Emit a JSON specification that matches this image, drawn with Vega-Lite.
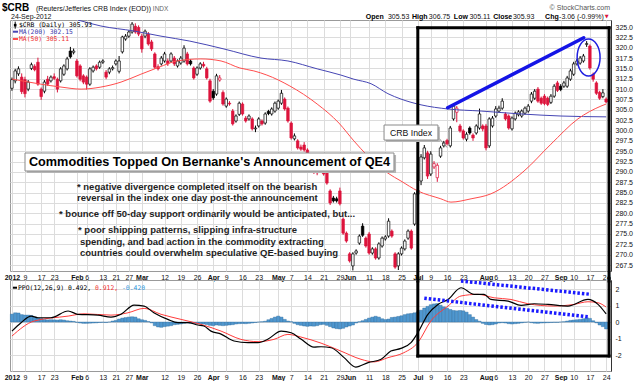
{
"$schema":"https://vega.github.io/schema/vega-lite/v6.json",
"background":"white",
"padding":{"left":1,"top":2,"right":0,"bottom":0},
"spacing":9,
"bounds":"flush",
"config":{"font":"Liberation Sans","view":{"stroke":"#9a9a9a","strokeWidth":1},"axis":{"labelFont":"Liberation Sans","labelFontSize":7,"labelColor":"#111","ticks":false,"domain":false,"grid":true,"gridColor":"#dcdcdc","labelOverlap":false,"title":null}},
"datasets":{
"ohlc":[
{"i":0,"o":310.2,"h":312.8,"l":309.6,"c":312.3},{"i":1,"o":312.0,"h":314.9,"l":311.4,"c":314.4},{"i":2,"o":313.7,"h":315.5,"l":313.2,"c":314.9},{"i":3,"o":312.9,"h":313.8,"l":308.8,"c":309.4},{"i":4,"o":312.3,"h":313.0,"l":308.0,"c":308.9},{"i":5,"o":310.0,"h":312.2,"l":309.5,"c":311.7},{"i":6,"o":315.0,"h":316.4,"l":314.6,"c":315.9},{"i":7,"o":315.5,"h":316.0,"l":314.3,"c":314.7},{"i":8,"o":316.5,"h":317.6,"l":310.8,"c":311.2},{"i":9,"o":310.0,"h":310.4,"l":307.4,"c":308.2},
{"i":10,"o":309.5,"h":312.2,"l":309.0,"c":311.7},{"i":11,"o":312.4,"h":313.2,"l":310.8,"c":311.2},{"i":12,"o":312.0,"h":313.3,"l":311.6,"c":312.9},{"i":13,"o":313.0,"h":313.8,"l":312.2,"c":312.6},{"i":14,"o":312.4,"h":312.8,"l":309.2,"c":310.0},{"i":15,"o":312.0,"h":315.3,"l":311.6,"c":314.9},{"i":16,"o":313.6,"h":316.0,"l":313.2,"c":315.6},{"i":17,"o":314.9,"h":317.8,"l":314.5,"c":317.3},{"i":18,"o":319.2,"h":320.2,"l":317.4,"c":317.8},{"i":19,"o":318.9,"h":319.8,"l":318.4,"c":319.2},
{"i":20,"o":316.8,"h":317.3,"l":312.8,"c":313.2},{"i":21,"o":315.6,"h":316.0,"l":311.9,"c":312.4},{"i":22,"o":313.2,"h":313.6,"l":311.2,"c":311.7},{"i":23,"o":312.9,"h":313.3,"l":309.9,"c":311.2},{"i":24,"o":311.2,"h":315.3,"l":310.8,"c":314.9},{"i":25,"o":314.4,"h":315.7,"l":314.0,"c":315.3},{"i":26,"o":315.6,"h":316.0,"l":314.5,"c":314.9},{"i":27,"o":315.3,"h":316.9,"l":314.9,"c":316.5},{"i":28,"o":316.5,"h":317.2,"l":316.1,"c":316.8},{"i":29,"o":314.1,"h":314.6,"l":312.4,"c":312.9},
{"i":30,"o":314.1,"h":315.3,"l":313.6,"c":314.9},{"i":31,"o":314.9,"h":315.7,"l":314.5,"c":315.2},{"i":32,"o":316.1,"h":317.2,"l":315.7,"c":316.8},{"i":33,"o":314.3,"h":318.0,"l":313.8,"c":316.8},{"i":34,"o":319.0,"h":322.9,"l":318.6,"c":322.6},{"i":35,"o":322.1,"h":323.3,"l":321.7,"c":322.8},{"i":36,"o":322.8,"h":324.2,"l":322.4,"c":323.8},{"i":37,"o":323.8,"h":326.2,"l":323.4,"c":325.7},{"i":38,"o":325.2,"h":325.9,"l":323.4,"c":323.8},{"i":39,"o":324.9,"h":325.4,"l":322.8,"c":323.3},
{"i":40,"o":322.8,"h":323.4,"l":318.8,"c":319.7},{"i":41,"o":322.8,"h":324.4,"l":322.3,"c":324.0},{"i":42,"o":323.3,"h":323.8,"l":320.5,"c":320.9},{"i":43,"o":321.4,"h":321.9,"l":319.2,"c":319.7},{"i":44,"o":318.5,"h":318.9,"l":314.9,"c":315.3},{"i":45,"o":315.4,"h":316.0,"l":314.5,"c":314.9},{"i":46,"o":316.1,"h":318.0,"l":315.7,"c":317.5},{"i":47,"o":316.8,"h":319.0,"l":316.4,"c":318.5},{"i":48,"o":316.8,"h":317.4,"l":315.6,"c":316.1},{"i":49,"o":316.8,"h":318.9,"l":316.4,"c":318.5},
{"i":50,"o":317.5,"h":318.0,"l":315.6,"c":316.1},{"i":51,"o":315.6,"h":317.2,"l":315.2,"c":316.8},{"i":52,"o":316.3,"h":318.0,"l":315.9,"c":317.5},{"i":53,"o":316.8,"h":320.6,"l":316.4,"c":319.9},{"i":54,"o":318.5,"h":319.0,"l":315.7,"c":316.1},{"i":55,"o":316.8,"h":317.2,"l":315.7,"c":316.1},{"i":56,"o":315.1,"h":315.5,"l":312.3,"c":312.7},{"i":57,"o":313.6,"h":315.5,"l":313.2,"c":315.1},{"i":58,"o":315.1,"h":316.5,"l":314.7,"c":316.1},{"i":59,"o":316.0,"h":316.6,"l":315.2,"c":315.6},
{"i":60,"o":314.9,"h":315.4,"l":312.3,"c":312.7},{"i":61,"o":312.0,"h":312.5,"l":306.7,"c":307.1},{"i":62,"o":309.5,"h":310.0,"l":307.4,"c":307.9},{"i":63,"o":308.8,"h":313.7,"l":308.4,"c":313.2},{"i":64,"o":312.2,"h":313.4,"l":311.8,"c":312.7},{"i":65,"o":309.2,"h":309.7,"l":306.0,"c":306.4},{"i":66,"o":305.9,"h":308.0,"l":305.5,"c":307.6},{"i":67,"o":306.6,"h":307.1,"l":306.0,"c":306.4},{"i":68,"o":304.7,"h":305.2,"l":301.2,"c":301.6},{"i":69,"o":302.3,"h":303.9,"l":301.9,"c":303.5},
{"i":70,"o":303.9,"h":307.0,"l":303.5,"c":306.6},{"i":71,"o":306.4,"h":306.8,"l":303.6,"c":304.0},{"i":72,"o":303.0,"h":303.5,"l":301.9,"c":302.3},{"i":73,"o":302.8,"h":303.9,"l":302.4,"c":303.5},{"i":74,"o":302.8,"h":303.2,"l":300.0,"c":300.4},{"i":75,"o":300.4,"h":301.2,"l":299.6,"c":300.6},{"i":76,"o":301.1,"h":303.2,"l":300.7,"c":302.8},{"i":77,"o":302.3,"h":302.7,"l":301.2,"c":301.6},{"i":78,"o":301.8,"h":304.4,"l":301.4,"c":304.0},{"i":79,"o":304.6,"h":305.0,"l":303.7,"c":304.1},
{"i":80,"o":304.0,"h":305.6,"l":303.6,"c":305.2},{"i":81,"o":304.7,"h":307.0,"l":304.3,"c":306.6},{"i":82,"o":305.4,"h":307.5,"l":305.0,"c":307.1},{"i":83,"o":306.6,"h":309.8,"l":306.2,"c":309.0},{"i":84,"o":307.6,"h":308.0,"l":304.8,"c":305.2},{"i":85,"o":305.4,"h":305.8,"l":301.9,"c":302.3},{"i":86,"o":301.8,"h":302.2,"l":297.8,"c":298.2},{"i":87,"o":298.0,"h":299.3,"l":297.6,"c":298.7},{"i":88,"o":297.5,"h":297.9,"l":295.4,"c":295.8},{"i":89,"o":296.0,"h":296.6,"l":295.1,"c":295.5},
{"i":90,"o":296.5,"h":297.2,"l":294.9,"c":295.3},{"i":91,"o":295.3,"h":295.7,"l":292.6,"c":293.0},{"i":92,"o":293.0,"h":293.4,"l":290.6,"c":291.0},{"i":93,"o":290.0,"h":291.3,"l":289.5,"c":290.8},{"i":94,"o":289.8,"h":291.0,"l":289.2,"c":290.6},{"i":95,"o":291.0,"h":291.6,"l":290.0,"c":290.4},{"i":96,"o":290.9,"h":291.8,"l":289.1,"c":289.5},{"i":97,"o":290.9,"h":291.3,"l":286.9,"c":287.3},{"i":98,"o":285.4,"h":285.8,"l":282.0,"c":282.5},{"i":99,"o":283.7,"h":284.2,"l":282.6,"c":283.0},
{"i":100,"o":283.5,"h":284.0,"l":282.6,"c":283.0},{"i":101,"o":285.4,"h":286.2,"l":281.9,"c":282.3},{"i":102,"o":278.6,"h":279.0,"l":274.8,"c":275.2},{"i":103,"o":275.2,"h":275.6,"l":272.9,"c":273.3},{"i":104,"o":270.2,"h":270.6,"l":268.1,"c":268.5},{"i":105,"o":267.3,"h":270.6,"l":266.2,"c":270.2},{"i":106,"o":270.4,"h":271.3,"l":270.0,"c":270.9},{"i":107,"o":272.8,"h":274.9,"l":272.4,"c":274.5},{"i":108,"o":276.9,"h":277.6,"l":274.3,"c":274.7},{"i":109,"o":274.0,"h":274.4,"l":271.7,"c":272.1},
{"i":110,"o":275.0,"h":275.5,"l":270.0,"c":270.4},{"i":111,"o":270.4,"h":271.8,"l":270.0,"c":271.4},{"i":112,"o":271.4,"h":271.8,"l":268.8,"c":269.2},{"i":113,"o":269.2,"h":273.0,"l":268.8,"c":272.6},{"i":114,"o":272.1,"h":274.4,"l":271.7,"c":274.0},{"i":115,"o":273.8,"h":274.7,"l":273.4,"c":274.3},{"i":116,"o":274.5,"h":278.8,"l":274.1,"c":278.1},{"i":117,"o":275.7,"h":276.1,"l":274.1,"c":274.5},{"i":118,"o":270.2,"h":270.6,"l":266.6,"c":267.0},{"i":119,"o":267.3,"h":270.6,"l":266.3,"c":270.2},
{"i":120,"o":270.2,"h":272.0,"l":269.8,"c":271.6},{"i":121,"o":271.4,"h":273.7,"l":271.0,"c":273.3},{"i":122,"o":274.0,"h":276.1,"l":273.6,"c":275.7},{"i":123,"o":275.7,"h":276.1,"l":271.2,"c":271.6},{"i":124,"o":277.4,"h":285.1,"l":277.0,"c":284.7},{"i":125,"o":284.6,"h":286.0,"l":284.2,"c":285.6},{"i":126,"o":287.8,"h":294.3,"l":286.8,"c":293.6},{"i":127,"o":293.4,"h":296.5,"l":293.0,"c":295.8},{"i":128,"o":294.6,"h":295.1,"l":288.3,"c":289.0},{"i":129,"o":289.5,"h":295.0,"l":289.0,"c":294.3},
{"i":130,"o":291.2,"h":292.6,"l":290.7,"c":292.0},{"i":131,"o":288.6,"h":292.1,"l":287.6,"c":291.6},{"i":132,"o":293.8,"h":296.3,"l":293.4,"c":295.8},{"i":133,"o":296.3,"h":297.5,"l":295.9,"c":297.0},{"i":134,"o":297.6,"h":298.0,"l":296.4,"c":296.8},{"i":135,"o":296.3,"h":301.1,"l":295.9,"c":300.6},{"i":136,"o":302.8,"h":306.5,"l":302.4,"c":305.9},{"i":137,"o":304.4,"h":305.9,"l":302.0,"c":305.4},{"i":138,"o":301.1,"h":301.6,"l":299.5,"c":299.9},{"i":139,"o":299.9,"h":300.3,"l":297.8,"c":298.2},
{"i":140,"o":297.9,"h":299.6,"l":297.4,"c":299.1},{"i":141,"o":300.6,"h":301.0,"l":299.0,"c":299.4},{"i":142,"o":298.9,"h":299.3,"l":297.5,"c":298.2},{"i":143,"o":299.4,"h":301.5,"l":299.0,"c":301.1},{"i":144,"o":300.6,"h":305.3,"l":300.2,"c":304.0},{"i":145,"o":301.1,"h":301.5,"l":299.8,"c":300.4},{"i":146,"o":301.1,"h":301.6,"l":295.2,"c":295.8},{"i":147,"o":296.3,"h":303.2,"l":295.8,"c":302.8},{"i":148,"o":301.1,"h":303.5,"l":300.7,"c":303.0},{"i":149,"o":303.5,"h":305.9,"l":303.1,"c":305.2},
{"i":150,"o":304.7,"h":306.0,"l":304.3,"c":305.4},{"i":151,"o":305.4,"h":307.8,"l":305.0,"c":307.1},{"i":152,"o":304.0,"h":304.4,"l":302.4,"c":302.8},{"i":153,"o":303.5,"h":303.9,"l":300.2,"c":300.6},{"i":154,"o":300.4,"h":303.4,"l":300.0,"c":303.0},{"i":155,"o":302.8,"h":304.6,"l":302.4,"c":304.2},{"i":156,"o":303.8,"h":304.9,"l":303.4,"c":304.5},{"i":157,"o":303.5,"h":305.1,"l":303.1,"c":304.7},{"i":158,"o":304.2,"h":305.8,"l":303.8,"c":305.4},{"i":159,"o":304.7,"h":306.4,"l":304.3,"c":305.9},
{"i":160,"o":307.1,"h":309.3,"l":306.6,"c":308.8},{"i":161,"o":307.8,"h":310.0,"l":307.4,"c":309.5},{"i":162,"o":310.0,"h":310.5,"l":306.7,"c":307.1},{"i":163,"o":307.8,"h":308.2,"l":306.2,"c":306.6},{"i":164,"o":308.3,"h":308.8,"l":306.1,"c":306.5},{"i":165,"o":307.8,"h":308.2,"l":305.9,"c":306.3},{"i":166,"o":306.8,"h":308.8,"l":306.4,"c":308.3},{"i":167,"o":308.3,"h":311.2,"l":307.9,"c":310.7},{"i":168,"o":311.5,"h":312.0,"l":309.3,"c":309.7},{"i":169,"o":310.7,"h":311.2,"l":309.5,"c":309.9},
{"i":170,"o":310.7,"h":312.0,"l":310.3,"c":311.5},{"i":171,"o":310.7,"h":313.2,"l":310.3,"c":312.7},{"i":172,"o":312.4,"h":314.9,"l":312.0,"c":314.4},{"i":173,"o":313.6,"h":316.6,"l":313.2,"c":316.1},{"i":174,"o":316.1,"h":317.3,"l":315.7,"c":316.8},{"i":175,"o":316.3,"h":318.0,"l":315.9,"c":317.5},{"i":176,"o":316.8,"h":318.5,"l":316.4,"c":318.0},{"i":177,"o":320.8,"h":321.6,"l":320.2,"c":321.0},{"i":178,"o":320.4,"h":320.8,"l":314.7,"c":315.1},{"i":179,"o":313.6,"h":314.0,"l":311.8,"c":312.4},
{"i":180,"o":311.5,"h":311.9,"l":308.6,"c":309.0},{"i":181,"o":309.2,"h":309.6,"l":307.4,"c":307.8},{"i":182,"o":308.2,"h":310.0,"l":307.8,"c":309.1},{"i":183,"o":307.6,"h":308.0,"l":306.6,"c":306.9}
],
"ma200":[{"i":20.3,"p":326.7},{"i":27.4,"p":325.25},{"i":37.6,"p":324.04},{"i":45.9,"p":322.8},{"i":54.8,"p":321.6},{"i":65.3,"p":319.7},{"i":76.7,"p":317.5},{"i":85,"p":316.8},{"i":94,"p":314.9},{"i":101.3,"p":313.4},{"i":105.3,"p":312.4},{"i":110.6,"p":311.3},{"i":115.8,"p":308.9},{"i":119.8,"p":307.6},{"i":126,"p":306.2},{"i":134.3,"p":305.2},{"i":144.5,"p":304.7},{"i":156.8,"p":304.0},{"i":169.1,"p":303.5},{"i":183,"p":303.3}],
"ma50":[{"i":0,"p":312.45},{"i":8.9,"p":311.2},{"i":15.1,"p":310.5},{"i":21.3,"p":310.0},{"i":27.4,"p":310.5},{"i":33.6,"p":311.7},{"i":39.7,"p":313.6},{"i":45.3,"p":315.3},{"i":50.8,"p":316.8},{"i":58.2,"p":317.3},{"i":64.4,"p":316.8},{"i":70.2,"p":315.1},{"i":74.5,"p":314.4},{"i":78.5,"p":313.4},{"i":85.6,"p":310.75},{"i":94,"p":306.4},{"i":100.7,"p":301.8},{"i":105.3,"p":297.5},{"i":109.6,"p":293.85},{"i":115.8,"p":289.7},{"i":119.8,"p":287.8},{"i":125,"p":285.4},{"i":132.1,"p":283.5},{"i":135.2,"p":282.7},{"i":141.4,"p":283.5},{"i":147.5,"p":284.7},{"i":157.7,"p":290.2},{"i":166,"p":296.7},{"i":174.3,"p":302.8},{"i":181.4,"p":305.9},{"i":183,"p":306.4}],
"ppo":[{"i":0,"v":-0.55},{"i":2.8,"v":-0.04},{"i":5.9,"v":0.36},{"i":8,"v":0.26},{"i":12,"v":0.26},{"i":17.3,"v":0.67},{"i":20.3,"v":0.47},{"i":26.5,"v":0.42},{"i":30.5,"v":0.3},{"i":33.6,"v":0.47},{"i":37.6,"v":1.03},{"i":40.7,"v":0.97},{"i":43.7,"v":0.56},{"i":48,"v":0.16},{"i":51.1,"v":-0.04},{"i":54.2,"v":-0.04},{"i":57.3,"v":-0.18},{"i":59.1,"v":-0.24},{"i":61.3,"v":-0.55},{"i":64.4,"v":-0.73},{"i":68.4,"v":-1.15},{"i":72.7,"v":-1.25},{"i":75.8,"v":-1.25},{"i":78.9,"v":-1.03},{"i":82.9,"v":-0.55},{"i":86,"v":-0.65},{"i":89,"v":-1.03},{"i":93,"v":-1.52},{"i":95.2,"v":-1.5},{"i":98.3,"v":-1.56},{"i":102.3,"v":-2.16},{"i":105.9,"v":-2.73},{"i":109.7,"v":-2.46},{"i":113.7,"v":-2.26},{"i":116.7,"v":-1.76},{"i":119.8,"v":-1.6},{"i":122.9,"v":-1.25},{"i":125,"v":-0.65},{"i":128.1,"v":0.47},{"i":131.2,"v":1.07},{"i":134.3,"v":1.37},{"i":138.3,"v":2.08},{"i":142.3,"v":1.68},{"i":145.4,"v":1.68},{"i":147.5,"v":1.37},{"i":152.8,"v":1.27},{"i":156.8,"v":1.01},{"i":160.8,"v":1.11},{"i":165.1,"v":1.07},{"i":171.2,"v":0.97},{"i":177.4,"v":1.37},{"i":180.5,"v":1.07},{"i":183,"v":0.49}],
"sig":[{"i":0,"v":-0.85},{"i":6.8,"v":0.06},{"i":17.3,"v":0.36},{"i":22.2,"v":0.5},{"i":30.5,"v":0.42},{"i":35.7,"v":0.56},{"i":40.7,"v":0.83},{"i":45.9,"v":0.47},{"i":52.1,"v":0.16},{"i":58.2,"v":-0.14},{"i":64.4,"v":-0.55},{"i":70.5,"v":-1.05},{"i":75.8,"v":-1.19},{"i":80.7,"v":-1.05},{"i":85,"v":-0.75},{"i":89,"v":-0.91},{"i":95.2,"v":-1.28},{"i":101.3,"v":-1.76},{"i":107.5,"v":-2.26},{"i":111.5,"v":-2.42},{"i":115.8,"v":-2.16},{"i":120.7,"v":-1.86},{"i":125,"v":-1.25},{"i":129,"v":0.06},{"i":134.3,"v":0.97},{"i":138.3,"v":1.58},{"i":143.5,"v":1.68},{"i":148.5,"v":1.47},{"i":153.7,"v":1.37},{"i":158.9,"v":1.11},{"i":166.9,"v":0.97},{"i":173.1,"v":1.07},{"i":177.4,"v":1.23},{"i":180.5,"v":1.17},{"i":183,"v":0.91}],
"hist":[{"i":0,"v":0.48},{"i":1,"v":0.56},{"i":2,"v":0.55},{"i":3,"v":0.45},{"i":4,"v":0.42},{"i":5,"v":0.42},{"i":6,"v":0.4},{"i":7,"v":0.3},{"i":8,"v":0.25},{"i":9,"v":0.22},{"i":10,"v":0.15},{"i":11,"v":0.13},{"i":12,"v":0.14},{"i":13,"v":0.13},{"i":14,"v":0.12},{"i":15,"v":0.14},{"i":16,"v":0.12},{"i":17,"v":0.08},{"i":18,"v":0.06},{"i":19,"v":0.04},{"i":20,"v":-0.02},{"i":21,"v":-0.06},{"i":22,"v":-0.08},{"i":23,"v":-0.08},{"i":24,"v":-0.07},{"i":25,"v":-0.06},{"i":26,"v":-0.05},{"i":27,"v":-0.03},{"i":28,"v":-0.02},{"i":29,"v":-0.03},{"i":30,"v":0},{"i":31,"v":0.06},{"i":32,"v":0.1},{"i":33,"v":0.18},{"i":34,"v":0.24},{"i":35,"v":0.27},{"i":36,"v":0.3},{"i":37,"v":0.32},{"i":38,"v":0.3},{"i":39,"v":0.2},{"i":40,"v":0.14},{"i":41,"v":0.1},{"i":42,"v":0.03},{"i":43,"v":-0.05},{"i":44,"v":-0.22},{"i":45,"v":-0.3},{"i":46,"v":-0.32},{"i":47,"v":-0.28},{"i":48,"v":-0.25},{"i":49,"v":-0.22},{"i":50,"v":-0.16},{"i":51,"v":-0.14},{"i":52,"v":-0.12},{"i":53,"v":-0.08},{"i":54,"v":-0.06},{"i":55,"v":-0.07},{"i":56,"v":-0.09},{"i":57,"v":-0.1},{"i":58,"v":-0.1},{"i":59,"v":-0.12},{"i":60,"v":-0.15},{"i":61,"v":-0.2},{"i":62,"v":-0.22},{"i":63,"v":-0.18},{"i":64,"v":-0.2},{"i":65,"v":-0.22},{"i":66,"v":-0.2},{"i":67,"v":-0.18},{"i":68,"v":-0.16},{"i":69,"v":-0.12},{"i":70,"v":-0.1},{"i":71,"v":-0.09},{"i":72,"v":-0.1},{"i":73,"v":-0.08},{"i":74,"v":-0.06},{"i":75,"v":-0.03},{"i":76,"v":0},{"i":77,"v":0.02},{"i":78,"v":0.05},{"i":79,"v":0.14},{"i":80,"v":0.22},{"i":81,"v":0.3},{"i":82,"v":0.36},{"i":83,"v":0.3},{"i":84,"v":0.16},{"i":85,"v":0.06},{"i":86,"v":0.02},{"i":87,"v":-0.08},{"i":88,"v":-0.16},{"i":89,"v":-0.2},{"i":90,"v":-0.24},{"i":91,"v":-0.26},{"i":92,"v":-0.24},{"i":93,"v":-0.25},{"i":94,"v":-0.22},{"i":95,"v":-0.16},{"i":96,"v":-0.14},{"i":97,"v":-0.2},{"i":98,"v":-0.28},{"i":99,"v":-0.36},{"i":100,"v":-0.4},{"i":101,"v":-0.42},{"i":102,"v":-0.38},{"i":103,"v":-0.3},{"i":104,"v":-0.24},{"i":105,"v":-0.18},{"i":106,"v":-0.06},{"i":107,"v":0.02},{"i":108,"v":0.08},{"i":109,"v":0.16},{"i":110,"v":0.24},{"i":111,"v":0.3},{"i":112,"v":0.35},{"i":113,"v":0.3},{"i":114,"v":0.2},{"i":115,"v":0.15},{"i":116,"v":0.18},{"i":117,"v":0.28},{"i":118,"v":0.3},{"i":119,"v":0.34},{"i":120,"v":0.38},{"i":121,"v":0.45},{"i":122,"v":0.5},{"i":123,"v":0.52},{"i":124,"v":0.56},{"i":125,"v":0.62},{"i":126,"v":0.72},{"i":127,"v":0.85},{"i":128,"v":0.95},{"i":129,"v":1.05},{"i":130,"v":1.1},{"i":131,"v":1.12},{"i":132,"v":1.02},{"i":133,"v":0.92},{"i":134,"v":0.84},{"i":135,"v":0.76},{"i":136,"v":0.7},{"i":137,"v":0.68},{"i":138,"v":0.7},{"i":139,"v":0.68},{"i":140,"v":0.6},{"i":141,"v":0.45},{"i":142,"v":0.3},{"i":143,"v":0.15},{"i":144,"v":0.05},{"i":145,"v":-0.08},{"i":146,"v":-0.15},{"i":147,"v":-0.18},{"i":148,"v":-0.16},{"i":149,"v":-0.12},{"i":150,"v":-0.06},{"i":151,"v":-0.04},{"i":152,"v":-0.06},{"i":153,"v":-0.1},{"i":154,"v":-0.12},{"i":155,"v":-0.1},{"i":156,"v":-0.08},{"i":157,"v":-0.05},{"i":158,"v":-0.02},{"i":159,"v":0},{"i":160,"v":-0.04},{"i":161,"v":-0.07},{"i":162,"v":-0.08},{"i":163,"v":-0.06},{"i":164,"v":-0.05},{"i":165,"v":-0.04},{"i":166,"v":-0.03},{"i":167,"v":-0.02},{"i":168,"v":-0.02},{"i":169,"v":0},{"i":170,"v":0.02},{"i":171,"v":0.06},{"i":172,"v":0.1},{"i":173,"v":0.12},{"i":174,"v":0.14},{"i":175,"v":0.16},{"i":176,"v":0.2},{"i":177,"v":0.26},{"i":178,"v":0.22},{"i":179,"v":0.08},{"i":180,"v":-0.05},{"i":181,"v":-0.18},{"i":182,"v":-0.28},{"i":183,"v":-0.42}]
},
"vconcat":[
{"width":601,"height":251,"resolve":{"axis":{"x":"independent","y":"independent"}},"layer":[
{"data":{"name":"ohlc"},"transform":[{"window":[{"op":"lag","field":"c","as":"pc"}],"sort":[{"field":"i"}]}],"mark":{"type":"rule","strokeWidth":1},
"encoding":{"x":{"field":"i","type":"quantitative","scale":{"domain":[-0.6,184.5],"nice":false,"zero":false,"padding":0},"axis":{"title":null,"values":[0,4,9,13,20,23,28,32,36,40,47,52,57,62,66,71,76,82,86,91,96,101,104,110,115,120,125,129,134,139,146,149,154,159,164,169,173,178,183],"labelExpr":"['2012','9','17','23','Feb','6','13','21','27','Mar','12','19','26','Apr','9','16','23','May','7','14','21','29','Jun','11','18','25','Jul','9','16','23','Aug','6','13','20','27','Sep','10','17','24'][indexof([0,4,9,13,20,23,28,32,36,40,47,52,57,62,66,71,76,82,86,91,96,101,104,110,115,120,125,129,134,139,146,149,154,159,164,169,173,178,183],datum.value)]","labelFontWeight":{"condition":{"test":"indexof([0,20,40,62,82,104,125,146,169],datum.value)>=0","value":"bold"},"value":"normal"},"labelPadding":2,"labelOverlap":false,"labelFlush":false,"grid":true,"gridColor":"#dcdcdc","ticks":false,"domain":false}},
"y":{"field":"l","type":"quantitative","scale":{"domain":[266.06,326.7],"nice":false,"zero":false,"padding":0},"axis":{"title":null,"orient":"right","values":[267.5,270,272.5,275,277.5,280,282.5,285,287.5,290,292.5,295,297.5,300,302.5,305,307.5,310,312.5,315,317.5,320,322.5,325],"format":".1f","labelPadding":4,"labelOverlap":false,"domain":true,"domainColor":"#333","grid":true,"gridColor":"#dcdcdc","ticks":false}},
"y2":{"field":"h"},
"color":{"condition":{"test":"datum.c < datum.pc","value":"#dc143c"},"value":"#000"}}},
{"data":{"name":"ohlc"},"transform":[{"window":[{"op":"lag","field":"c","as":"pc"}],"sort":[{"field":"i"}]}],"mark":{"type":"bar","width":2.5,"strokeWidth":0.7},
"encoding":{"x":{"field":"i","type":"quantitative","scale":{"domain":[-0.6,184.5],"nice":false,"zero":false,"padding":0},"axis":null},
"y":{"field":"o","type":"quantitative","scale":{"domain":[266.06,326.7],"nice":false,"zero":false,"padding":0},"axis":null},
"y2":{"field":"c"},
"fill":{"condition":[{"test":"datum.c > datum.o","value":"#ffffff"},{"test":"datum.c < datum.pc","value":"#dc143c"}],"value":"#000"},
"stroke":{"condition":{"test":"datum.c < datum.pc","value":"#dc143c"},"value":"#000"}}},
{"data":{"name":"ma200"},"mark":{"type":"line","color":"#4646b4","strokeWidth":1,"interpolate":"monotone","clip":true},
"encoding":{"x":{"field":"i","type":"quantitative","axis":null},"y":{"field":"p","type":"quantitative","axis":null}}},
{"data":{"name":"ma50"},"mark":{"type":"line","color":"#ff4d4d","strokeWidth":1,"interpolate":"monotone","clip":true},
"encoding":{"x":{"field":"i","type":"quantitative","axis":null},"y":{"field":"p","type":"quantitative","axis":null}}},
{"data":{"values":[{"i":125,"i2":125,"p":324.84,"p2":263.64},{"i":183.9,"i2":183.9,"p":324.84,"p2":263.64},{"i":125,"i2":183.9,"p":324.84,"p2":324.84}]},"mark":{"type":"rule","color":"#000","strokeWidth":3,"strokeCap":"square"},
"encoding":{"x":{"field":"i","type":"quantitative","axis":null},"x2":{"field":"i2"},"y":{"field":"p","type":"quantitative","axis":null},"y2":{"field":"p2"}}},
{"data":{"values":[{"i":134.2,"i2":176.1,"p":305.5,"p2":322.42}]},"mark":{"type":"rule","color":"#1414e6","strokeWidth":3.5,"strokeCap":"round"},
"encoding":{"x":{"field":"i","type":"quantitative","axis":null},"x2":{"field":"i2"},"y":{"field":"p","type":"quantitative","axis":null},"y2":{"field":"p2"}}},
{"data":{"values":[{"i":177.6,"p":317.64}]},"mark":{"type":"point","shape":"M0,-1C0.342,-1,0.62,-0.552,0.62,0C0.62,0.552,0.342,1,0,1C-0.342,1,-0.62,0.552,-0.62,0C-0.62,-0.552,-0.342,-1,0,-1Z","size":1369,"filled":false,"color":"#1f1fe0","strokeWidth":1.5,"opacity":1},
"encoding":{"x":{"field":"i","type":"quantitative","axis":null},"y":{"field":"p","type":"quantitative","axis":null}}},
{"data":{"values":[{"i":4.6,"i2":118.3,"p":294.1,"p2":289.75}]},"mark":{"type":"rect","color":"#b5b5b5"},
"encoding":{"x":{"field":"i","type":"quantitative","axis":null},"x2":{"field":"i2"},"y":{"field":"p","type":"quantitative","axis":null},"y2":{"field":"p2"}}},
{"data":{"values":[{"i":4.02,"i2":117.66,"p":294.57,"p2":290.22}]},"mark":{"type":"rect","fill":"#ffffff","stroke":"#8a8a8a","strokeWidth":1},
"encoding":{"x":{"field":"i","type":"quantitative","axis":null},"x2":{"field":"i2"},"y":{"field":"p","type":"quantitative","axis":null},"y2":{"field":"p2"}}},
{"data":{"values":[{"i":60.84,"p":292.39,"t":"Commodities Topped On Bernanke's Announcement of QE4"}]},"mark":{"type":"text","font":"Liberation Sans","fontSize":12.7,"fontWeight":"bold","align":"center","baseline":"middle","color":"#000"},
"encoding":{"x":{"field":"i","type":"quantitative","axis":null},"y":{"field":"p","type":"quantitative","axis":null},"text":{"field":"t"}}},
{"data":{"values":[{"i":20.03,"p":286.35,"t":"* negative divergence completed itself on the bearish"},{"i":20.03,"p":283.7,"t":"reversal in the index one day post-the announcement"},{"i":14.49,"p":279.83,"t":"* bounce off 50-day support ordinarily would be anticipated, but..."},{"i":20.34,"p":275.96,"t":"* poor shipping patterns, slipping infra-structure"},{"i":20.96,"p":273.06,"t":"spending, and bad action in the commodity extracting"},{"i":20.96,"p":270.4,"t":"countries could overwhelm speculative QE-based buying"}]},"mark":{"type":"text","font":"Liberation Sans","fontSize":9.5,"fontWeight":"bold","align":"left","baseline":"middle","color":"#1e1e1e"},
"encoding":{"x":{"field":"i","type":"quantitative","axis":null},"y":{"field":"p","type":"quantitative","axis":null},"text":{"field":"t"}}},
{"data":{"values":[{"i":131.2,"i2":134.0,"p":298.4,"p2":295.9}]},"mark":{"type":"rule","color":"#888","strokeWidth":1},
"encoding":{"x":{"field":"i","type":"quantitative","axis":null},"x2":{"field":"i2"},"y":{"field":"p","type":"quantitative","axis":null},"y2":{"field":"p2"}}},
{"data":{"values":[{"i":115.2,"i2":131.8,"p":300.9,"p2":297.25}]},"mark":{"type":"rect","color":"#b5b5b5"},
"encoding":{"x":{"field":"i","type":"quantitative","axis":null},"x2":{"field":"i2"},"y":{"field":"p","type":"quantitative","axis":null},"y2":{"field":"p2"}}},
{"data":{"values":[{"i":114.6,"i2":131.2,"p":301.33,"p2":297.7}]},"mark":{"type":"rect","fill":"#ffffff","stroke":"#8a8a8a","strokeWidth":1},
"encoding":{"x":{"field":"i","type":"quantitative","axis":null},"x2":{"field":"i2"},"y":{"field":"p","type":"quantitative","axis":null},"y2":{"field":"p2"}}},
{"data":{"values":[{"i":122.9,"p":299.45,"t":"CRB Index"}]},"mark":{"type":"text","font":"Liberation Sans","fontSize":8.7,"align":"center","baseline":"middle","color":"#111"},
"encoding":{"x":{"field":"i","type":"quantitative","axis":null},"y":{"field":"p","type":"quantitative","axis":null},"text":{"field":"t"}}},
{"data":{"values":[{"i":0.3,"i2":1.86,"p":323.87,"p2":323.87}]},"mark":{"type":"rule","color":"#4646b4","strokeWidth":2},
"encoding":{"x":{"field":"i","type":"quantitative","axis":null},"x2":{"field":"i2"},"y":{"field":"p","type":"quantitative","axis":null},"y2":{"field":"p2"}}},
{"data":{"values":[{"i":0.3,"i2":1.86,"p":322.11,"p2":322.11}]},"mark":{"type":"rule","color":"#ff4d4d","strokeWidth":2},
"encoding":{"x":{"field":"i","type":"quantitative","axis":null},"x2":{"field":"i2"},"y":{"field":"p","type":"quantitative","axis":null},"y2":{"field":"p2"}}},
{"data":{"values":[{"i":1.0,"i2":1.0,"p":324.6,"p2":326.3}]},"mark":{"type":"rule","color":"#000","strokeWidth":1},
"encoding":{"x":{"field":"i","type":"quantitative","axis":null},"x2":{"field":"i2"},"y":{"field":"p","type":"quantitative","axis":null},"y2":{"field":"p2"}}},
{"data":{"values":[{"i":1.0,"p":325.45}]},"mark":{"type":"square","color":"#000","size":7,"opacity":1},
"encoding":{"x":{"field":"i","type":"quantitative","axis":null},"y":{"field":"p","type":"quantitative","axis":null}}},
{"data":{"values":[{"i":2.17,"p":325.49,"t":"$CRB (Daily) 305.93"}]},"mark":{"type":"text","font":"DejaVu Sans Mono","fontSize":6.4,"align":"left","baseline":"middle","color":"#000"},
"encoding":{"x":{"field":"i","type":"quantitative","axis":null},"y":{"field":"p","type":"quantitative","axis":null},"text":{"field":"t"}}},
{"data":{"values":[{"i":2.17,"p":323.87,"t":"MA(200) 302.15"}]},"mark":{"type":"text","font":"DejaVu Sans Mono","fontSize":6.4,"align":"left","baseline":"middle","color":"#3c3cae"},
"encoding":{"x":{"field":"i","type":"quantitative","axis":null},"y":{"field":"p","type":"quantitative","axis":null},"text":{"field":"t"}}},
{"data":{"values":[{"i":2.17,"p":322.11,"t":"MA(50) 305.11"}]},"mark":{"type":"text","font":"DejaVu Sans Mono","fontSize":6.4,"align":"left","baseline":"middle","color":"#f03030"},
"encoding":{"x":{"field":"i","type":"quantitative","axis":null},"y":{"field":"p","type":"quantitative","axis":null},"text":{"field":"t"}}},
{"data":{"values":[{"i":-3.06,"p":330.81,"t":"$CRB"}]},"mark":{"type":"text","font":"Liberation Sans","fontSize":10,"fontWeight":"bold","align":"left","baseline":"top","color":"#000"},
"encoding":{"x":{"field":"i","type":"quantitative","axis":null},"y":{"field":"p","type":"quantitative","axis":null},"text":{"field":"t"}}},
{"data":{"values":[{"i":7.41,"p":328.8,"t":"(Reuters/Jefferies CRB Index (EOD))"},{"i":-0.29,"p":327.06,"t":"24-Sep-2012"},{"i":115.8,"p":327.06,"t":"305.53"},{"i":128.4,"p":327.06,"t":"306.75"},{"i":140.9,"p":327.06,"t":"305.11"},{"i":154.3,"p":327.06,"t":"305.93"},{"i":168.5,"p":327.06,"t":"-3.06 (-0.99%)"}]},"mark":{"type":"text","font":"Liberation Sans","fontSize":7,"align":"left","baseline":"alphabetic","color":"#111"},
"encoding":{"x":{"field":"i","type":"quantitative","axis":null},"y":{"field":"p","type":"quantitative","axis":null},"text":{"field":"t"}}},
{"data":{"values":[{"i":109.0,"p":327.06,"t":"Open"},{"i":123.2,"p":327.06,"t":"High"},{"i":136.1,"p":327.06,"t":"Low"},{"i":148.2,"p":327.06,"t":"Close"},{"i":164.2,"p":327.06,"t":"Chg"}]},"mark":{"type":"text","font":"Liberation Sans","fontSize":7,"fontWeight":"bold","align":"left","baseline":"alphabetic","color":"#000"},
"encoding":{"x":{"field":"i","type":"quantitative","axis":null},"y":{"field":"p","type":"quantitative","axis":null},"text":{"field":"t"}}},
{"data":{"values":[{"i":43.4,"p":328.8,"t":"INDX"}]},"mark":{"type":"text","font":"Liberation Sans","fontSize":6.5,"align":"left","baseline":"alphabetic","color":"#666"},
"encoding":{"x":{"field":"i","type":"quantitative","axis":null},"y":{"field":"p","type":"quantitative","axis":null},"text":{"field":"t"}}},
{"data":{"values":[{"i":184.2,"p":329.04,"t":"© StockCharts.com"}]},"mark":{"type":"text","font":"Liberation Sans","fontSize":7,"align":"right","baseline":"alphabetic","color":"#555"},
"encoding":{"x":{"field":"i","type":"quantitative","axis":null},"y":{"field":"p","type":"quantitative","axis":null},"text":{"field":"t"}}},
{"data":{"values":[{"i":182.6,"p":327.3,"t":"▼"}]},"mark":{"type":"text","font":"DejaVu Sans","fontSize":5,"align":"left","baseline":"alphabetic","color":"#dc143c"},
"encoding":{"x":{"field":"i","type":"quantitative","axis":null},"y":{"field":"p","type":"quantitative","axis":null},"text":{"field":"t"}}}
]},
{"width":601,"height":91,"resolve":{"axis":{"x":"independent","y":"independent"}},"layer":[
{"data":{"name":"hist"},"mark":{"type":"bar","width":3.2,"fill":"#4f97cf","stroke":"#2b6a9c","strokeWidth":0.4},
"encoding":{"x":{"field":"i","type":"quantitative","scale":{"domain":[-0.6,184.5],"nice":false,"zero":false,"padding":0},"axis":{"title":null,"values":[0,4,9,13,20,23,28,32,36,40,47,52,57,62,66,71,76,82,86,91,96,101,104,110,115,120,125,129,134,139,146,149,154,159,164,169,173,178,183],"labelExpr":"['2012','9','17','23','Feb','6','13','21','27','Mar','12','19','26','Apr','9','16','23','May','7','14','21','29','Jun','11','18','25','Jul','9','16','23','Aug','6','13','20','27','Sep','10','17','24'][indexof([0,4,9,13,20,23,28,32,36,40,47,52,57,62,66,71,76,82,86,91,96,101,104,110,115,120,125,129,134,139,146,149,154,159,164,169,173,178,183],datum.value)]","labelFontWeight":{"condition":{"test":"indexof([0,20,40,62,82,104,125,146,169],datum.value)>=0","value":"bold"},"value":"normal"},"labelPadding":2,"labelOverlap":false,"labelFlush":false,"grid":true,"gridColor":"#dcdcdc","ticks":false,"domain":false}},
"y":{"field":"v","type":"quantitative","scale":{"domain":[-2.97,2.55],"nice":false,"zero":false,"padding":0},"axis":{"title":null,"orient":"right","values":[-2,-1,0,1,2],"labelExpr":"''+datum.value","labelPadding":4,"labelOverlap":false,"domain":true,"domainColor":"#333","grid":true,"gridColor":"#dcdcdc","ticks":false}},
"y2":{"datum":0}}},
{"data":{"name":"sig"},"mark":{"type":"line","color":"#ff3b3b","strokeWidth":1,"interpolate":"monotone"},
"encoding":{"x":{"field":"i","type":"quantitative","axis":null},"y":{"field":"v","type":"quantitative","axis":null}}},
{"data":{"name":"ppo"},"mark":{"type":"line","color":"#000","strokeWidth":1.2,"interpolate":"monotone"},
"encoding":{"x":{"field":"i","type":"quantitative","axis":null},"y":{"field":"v","type":"quantitative","axis":null}}},
{"data":{"values":[{"i":138.3,"i2":178.3,"v":2.49,"v2":1.68},{"i":127.0,"i2":177.8,"v":1.44,"v2":0.306}]},"mark":{"type":"rule","color":"#1a1aff","strokeWidth":3.5,"strokeDash":[2.5,2]},
"encoding":{"x":{"field":"i","type":"quantitative","axis":null},"x2":{"field":"i2"},"y":{"field":"v","type":"quantitative","axis":null},"y2":{"field":"v2"}}},
{"data":{"values":[{"i":125,"i2":125,"v":2.65,"v2":-2.06},{"i":183.9,"i2":183.9,"v":2.65,"v2":-2.06},{"i":125,"i2":183.9,"v":-2.06,"v2":-2.06}]},"mark":{"type":"rule","color":"#000","strokeWidth":3,"strokeCap":"square"},
"encoding":{"x":{"field":"i","type":"quantitative","axis":null},"x2":{"field":"i2"},"y":{"field":"v","type":"quantitative","axis":null},"y2":{"field":"v2"}}},
{"data":{"values":[{"i":0.3,"i2":1.56,"v":2.083,"v2":2.083}]},"mark":{"type":"rule","color":"#000","strokeWidth":2},
"encoding":{"x":{"field":"i","type":"quantitative","axis":null},"x2":{"field":"i2"},"y":{"field":"v","type":"quantitative","axis":null},"y2":{"field":"v2"}}},
{"data":{"values":[{"i":1.86,"v":2.083,"t":"PPO(12,26,9)"},{"i":17.26,"v":2.083,"t":"0.492,"}]},"mark":{"type":"text","font":"DejaVu Sans Mono","fontSize":6.4,"align":"left","baseline":"middle","color":"#000"},
"encoding":{"x":{"field":"i","type":"quantitative","axis":null},"y":{"field":"v","type":"quantitative","axis":null},"text":{"field":"t"}}},
{"data":{"values":[{"i":25.58,"v":2.083,"t":"0.912,"}]},"mark":{"type":"text","font":"DejaVu Sans Mono","fontSize":6.4,"align":"left","baseline":"middle","color":"#f03030"},
"encoding":{"x":{"field":"i","type":"quantitative","axis":null},"y":{"field":"v","type":"quantitative","axis":null},"text":{"field":"t"}}},
{"data":{"values":[{"i":33.9,"v":2.083,"t":"-0.420"}]},"mark":{"type":"text","font":"DejaVu Sans Mono","fontSize":6.4,"align":"left","baseline":"middle","color":"#3399dd"},
"encoding":{"x":{"field":"i","type":"quantitative","axis":null},"y":{"field":"v","type":"quantitative","axis":null},"text":{"field":"t"}}}
]}
]
}
